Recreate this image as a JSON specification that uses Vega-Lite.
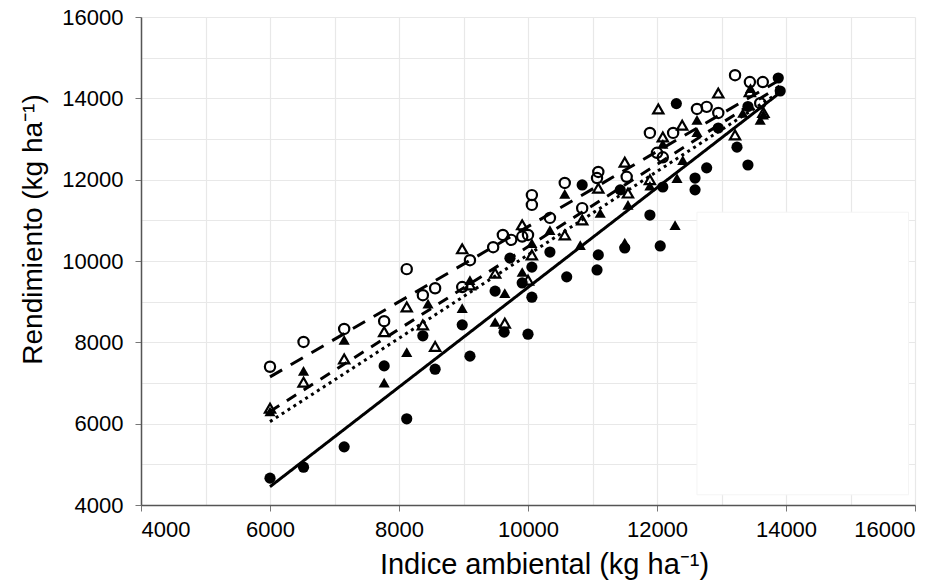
{
  "$schema": "https://vega.github.io/schema/vega-lite/v6.json",
  "width": 774,
  "height": 488,
  "autosize": {"type": "none"},
  "padding": {"left": 141, "top": 17, "right": 33, "bottom": 77},
  "background": "white",
  "config": {
    "view": {"stroke": null},
    "font": "Liberation Sans",
    "axis": {
      "labelFont": "Liberation Sans",
      "titleFont": "Liberation Sans",
      "labelFontSize": 22,
      "labelColor": "#000000",
      "titleFontSize": 28,
      "titleFontWeight": "normal",
      "titleColor": "#000000",
      "gridColor": "#e8e8e8",
      "gridWidth": 1.2,
      "domainColor": "#555555",
      "domainWidth": 1.5,
      "tickColor": "#777777",
      "tickSize": 6
    }
  },
  "datasets": {
    "pts": [
      {"s":"FC","x":6000,"y":4660},{"s":"FC","x":6520,"y":4930},{"s":"FC","x":7150,"y":5430},{"s":"FC","x":7770,"y":7420},{"s":"FC","x":8120,"y":6120},{"s":"FC","x":8370,"y":8160},{"s":"FC","x":8560,"y":7340},{"s":"FC","x":8980,"y":8430},{"s":"FC","x":9100,"y":7660},{"s":"FC","x":9490,"y":9260},{"s":"FC","x":9630,"y":8250},{"s":"FC","x":9720,"y":10070},{"s":"FC","x":9910,"y":9460},{"s":"FC","x":10000,"y":8200},{"s":"FC","x":10060,"y":9110},{"s":"FC","x":10060,"y":9850},{"s":"FC","x":10340,"y":10220},{"s":"FC","x":10600,"y":9610},{"s":"FC","x":10840,"y":11870},{"s":"FC","x":11070,"y":9780},{"s":"FC","x":11090,"y":10150},{"s":"FC","x":11430,"y":11750},{"s":"FC","x":11500,"y":10320},{"s":"FC","x":11890,"y":11130},{"s":"FC","x":12050,"y":10370},{"s":"FC","x":12090,"y":11820},{"s":"FC","x":12300,"y":13870},{"s":"FC","x":12590,"y":12040},{"s":"FC","x":12590,"y":11750},{"s":"FC","x":12770,"y":12290},{"s":"FC","x":12950,"y":13270},{"s":"FC","x":13240,"y":12800},{"s":"FC","x":13410,"y":12360},{"s":"FC","x":13410,"y":13800},{"s":"FC","x":13880,"y":14500},{"s":"FC","x":13910,"y":14180},
      {"s":"FT","x":6000,"y":6300},{"s":"FT","x":6520,"y":7300},{"s":"FT","x":7150,"y":8060},{"s":"FT","x":7770,"y":7010},{"s":"FT","x":8120,"y":7760},{"s":"FT","x":8450,"y":8950},{"s":"FT","x":8980,"y":8840},{"s":"FT","x":9100,"y":9530},{"s":"FT","x":9490,"y":8500},{"s":"FT","x":9640,"y":9210},{"s":"FT","x":9910,"y":9730},{"s":"FT","x":10060,"y":10440},{"s":"FT","x":10340,"y":10760},{"s":"FT","x":10570,"y":11650},{"s":"FT","x":10810,"y":10390},{"s":"FT","x":11120,"y":11180},{"s":"FT","x":11500,"y":10450},{"s":"FT","x":11550,"y":11380},{"s":"FT","x":11890,"y":11850},{"s":"FT","x":12090,"y":12880},{"s":"FT","x":12280,"y":10880},{"s":"FT","x":12310,"y":12040},{"s":"FT","x":12400,"y":12480},{"s":"FT","x":12620,"y":13470},{"s":"FT","x":12620,"y":13170},{"s":"FT","x":13330,"y":13640},{"s":"FT","x":13600,"y":13470},{"s":"FT","x":13650,"y":13600},{"s":"FT","x":13450,"y":14250},
      {"s":"OT","x":6000,"y":6380},{"s":"OT","x":6520,"y":7020},{"s":"OT","x":7150,"y":7590},{"s":"OT","x":7770,"y":8260},{"s":"OT","x":8120,"y":8870},{"s":"OT","x":8370,"y":8430},{"s":"OT","x":8560,"y":7900},{"s":"OT","x":8980,"y":10300},{"s":"OT","x":9100,"y":9410},{"s":"OT","x":9490,"y":9700},{"s":"OT","x":9640,"y":8470},{"s":"OT","x":9910,"y":10890},{"s":"OT","x":10000,"y":9530},{"s":"OT","x":10060,"y":10150},{"s":"OT","x":10570,"y":10640},{"s":"OT","x":10840,"y":11010},{"s":"OT","x":11090,"y":11790},{"s":"OT","x":11500,"y":12430},{"s":"OT","x":11550,"y":11670},{"s":"OT","x":11890,"y":12000},{"s":"OT","x":12020,"y":13740},{"s":"OT","x":12090,"y":13050},{"s":"OT","x":12390,"y":13340},{"s":"OT","x":12950,"y":14130},{"s":"OT","x":13210,"y":13100},{"s":"OT","x":13440,"y":14160},{"s":"OT","x":13650,"y":13650},
      {"s":"OC","x":6000,"y":7400},{"s":"OC","x":6520,"y":8010},{"s":"OC","x":7150,"y":8330},{"s":"OC","x":7770,"y":8520},{"s":"OC","x":8120,"y":9800},{"s":"OC","x":8370,"y":9160},{"s":"OC","x":8560,"y":9330},{"s":"OC","x":8980,"y":9360},{"s":"OC","x":9100,"y":10020},{"s":"OC","x":9460,"y":10340},{"s":"OC","x":9610,"y":10640},{"s":"OC","x":9740,"y":10520},{"s":"OC","x":9910,"y":10600},{"s":"OC","x":10000,"y":10640},{"s":"OC","x":10060,"y":11620},{"s":"OC","x":10060,"y":11380},{"s":"OC","x":10340,"y":11060},{"s":"OC","x":10570,"y":11920},{"s":"OC","x":10840,"y":11300},{"s":"OC","x":11070,"y":12040},{"s":"OC","x":11090,"y":12190},{"s":"OC","x":11530,"y":12070},{"s":"OC","x":11890,"y":13150},{"s":"OC","x":12000,"y":12660},{"s":"OC","x":12090,"y":12550},{"s":"OC","x":12250,"y":13150},{"s":"OC","x":12620,"y":13740},{"s":"OC","x":12770,"y":13790},{"s":"OC","x":12950,"y":13640},{"s":"OC","x":13210,"y":14570},{"s":"OC","x":13440,"y":14400},{"s":"OC","x":13640,"y":14400},{"s":"OC","x":13600,"y":13880}
    ],
    "lines": [
      {"s":"OC","x":6000,"y":7150},{"s":"OC","x":13900,"y":14450},
      {"s":"OT","x":6000,"y":6300},{"s":"OT","x":13900,"y":14300},
      {"s":"FT","x":6000,"y":6050},{"s":"FT","x":13900,"y":14150},
      {"s":"FC","x":6000,"y":4450},{"s":"FC","x":13900,"y":14130}
    ],
    "box": [{"x1":12620,"x2":15900,"y1":4250,"y2":11200}]
  },
  "layer": [
    {
      "data": {"name": "box"},
      "mark": {"type": "rect", "fill": "white", "stroke": "#f4f4f4", "strokeWidth": 1},
      "encoding": {
        "x": {
          "field": "x1", "type": "quantitative",
          "scale": {"domain": [4000, 16000], "nice": false, "zero": false},
          "axis": {
            "title": "Indice ambiental (kg ha⁻¹)",
            "titleFontSize": 29,
            "values": [4000,5000,6000,7000,8000,9000,10000,11000,12000,13000,14000,15000,16000],
            "labelExpr": "datum.value % 2000 === 0 ? format(datum.value, 'd') : ''",
            "tickOpacity": {"condition": {"test": "datum.value % 2000 === 0", "value": 1}, "value": 0},
            "labelPadding": 8,
            "titlePadding": 10,
            "titleX": 403
          }
        },
        "x2": {"field": "x2"},
        "y": {
          "field": "y1", "type": "quantitative",
          "scale": {"domain": [4000, 16000], "nice": false, "zero": false},
          "axis": {
            "title": "Rendimiento  (kg ha⁻¹)",
            "titleFontSize": 28,
            "titleAlign": "center",
            "values": [4000,5000,6000,7000,8000,9000,10000,11000,12000,13000,14000,15000,16000],
            "labelExpr": "datum.value % 2000 === 0 ? format(datum.value, 'd') : ''",
            "tickOpacity": {"condition": {"test": "datum.value % 2000 === 0", "value": 1}, "value": 0},
            "labelPadding": 12,
            "titlePadding": 14,
            "titleY": 212
          }
        },
        "y2": {"field": "y2"}
      }
    },
    {
      "data": {"name": "lines"},
      "mark": {"type": "line", "color": "black", "strokeWidth": 3},
      "encoding": {
        "x": {"field": "x", "type": "quantitative"},
        "y": {"field": "y", "type": "quantitative"},
        "detail": {"field": "s", "type": "nominal"},
        "strokeDash": {
          "field": "s", "type": "nominal", "legend": null,
          "scale": {"domain": ["OC","OT","FT","FC"], "range": [[14,10],[11,9],[3,4],[1,0]]}
        }
      }
    },
    {
      "data": {"name": "pts"},
      "transform": [{"filter": "datum.s === 'FC' || datum.s === 'FT'"}],
      "mark": {"type": "point", "filled": true, "color": "black", "opacity": 1, "size": 125},
      "encoding": {
        "x": {"field": "x", "type": "quantitative"},
        "y": {"field": "y", "type": "quantitative"},
        "shape": {
          "field": "s", "type": "nominal", "legend": null,
          "scale": {"domain": ["FC","FT","OT","OC"], "range": ["circle","triangle-up","triangle-up","circle"]}
        }
      }
    },
    {
      "data": {"name": "pts"},
      "transform": [{"filter": "datum.s === 'OC' || datum.s === 'OT'"}],
      "mark": {"type": "point", "filled": false, "color": "black", "opacity": 1, "strokeWidth": 2.2, "size": 105},
      "encoding": {
        "x": {"field": "x", "type": "quantitative"},
        "y": {"field": "y", "type": "quantitative"},
        "shape": {
          "field": "s", "type": "nominal", "legend": null,
          "scale": {"domain": ["FC","FT","OT","OC"], "range": ["circle","triangle-up","triangle-up","circle"]}
        }
      }
    }
  ]
}
